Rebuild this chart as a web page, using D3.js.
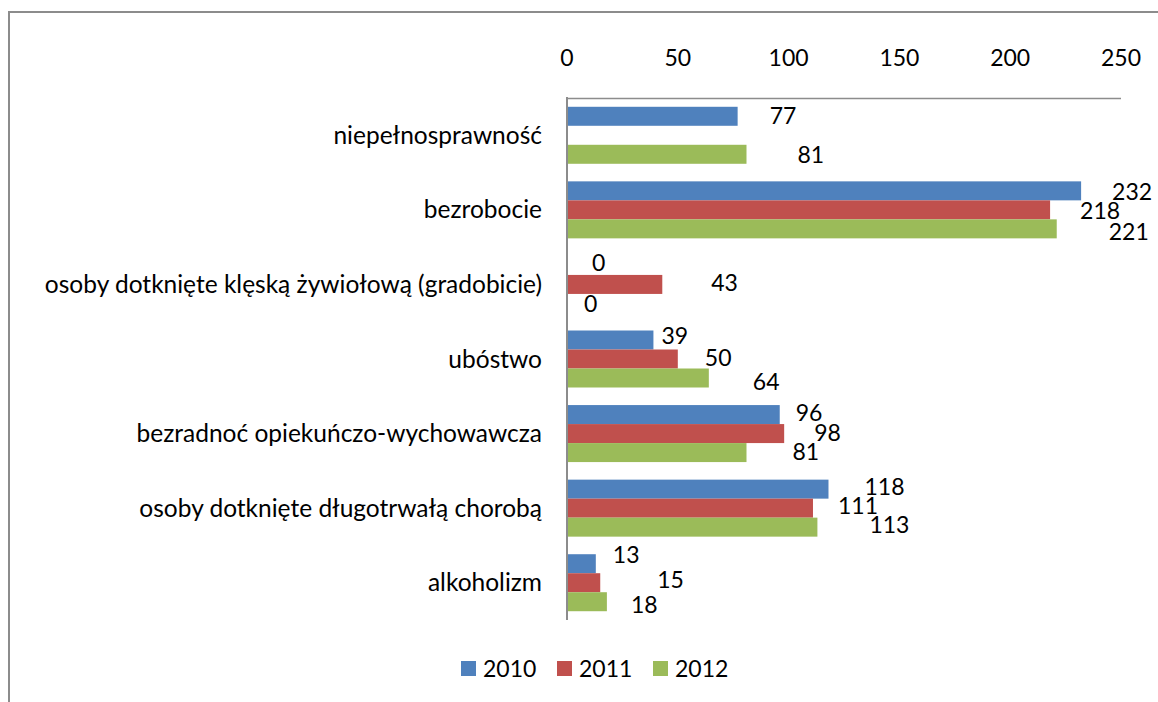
<!DOCTYPE html>
<html>
<head>
<meta charset="utf-8">
<script src="https://cdn.jsdelivr.net/npm/d3@7"></script>
<style>
  html,body{margin:0;padding:0;background:#fff}
  svg text{font-family:Lato,"Open Sans",sans-serif;fill:#000}
</style>
</head>
<body>
<svg id="chart" width="1158" height="702"></svg>
<script>
// categories and series values (2011 has no value for niepełnosprawność)
const categories = [
  'niepełnosprawność',
  'bezrobocie',
  'osoby dotknięte klęską żywiołową (gradobicie)',
  'ubóstwo',
  'bezradnoć opiekuńczo-wychowawcza',
  'osoby dotknięte długotrwałą chorobą',
  'alkoholizm'
]
const years = ['2010','2011','2012']
const v2010 = [77, 232, 0, 39, 96, 118, 13]
const v2011 = [null, 218, 43, 50, 98, 111, 15]
const v2012 = [81, 221, 0, 64, 81, 113, 18]
const ticks = [0, 50, 100, 150, 200, 250]

// label nudges, as placed by hand in the original (px)
const labelDx = [[32,0,51],[31,30,52],[25,49,17],[8,27,44],[16,30,46],[36,25,52],[17,57,24]]
const labelDy = [[0,0,1],[1,1,3],[-2,-1,1],[-4,-1,4],[-2,-1,-1],[-2,-2,-2],[-9,-3,3]]

const colors = ['#4f81bd','#c0504d','#9bbb59']
const series = [v2010, v2011, v2012]

const svg = d3.select('#chart')
const fs = 23

// outer frame (cut by the picture edge)
svg.append('rect').attr('x',9).attr('y',12).attr('width',1200).attr('height',750)
  .attr('fill','none').attr('stroke','#8c8c8c').attr('stroke-width',2)

const x = d3.scaleLinear().domain([0,250]).range([567,1121])
const y = d3.scaleBand().domain(categories).range([98,620])
const barH = 19

// top axis line
svg.append('line').attr('x1',x(0)).attr('x2',x(250)).attr('y1',98.5).attr('y2',98.5)
  .attr('stroke','#8c8c8c').attr('stroke-width',1.5)

// bars + value labels
series.forEach((vals,s)=>{
  const g = svg.append('g')
  categories.forEach((c,i)=>{
    const v = vals[i]
    if(v===null) return
    const cy = y(c) + y.bandwidth()/2 + (s-1)*barH
    g.append('rect')
      .attr('x', x(0)).attr('y', cy - barH/2)
      .attr('width', Math.max(0, x(v)-x(0))).attr('height', barH)
      .attr('fill', colors[s])
    g.append('text')
      .attr('x', x(v) + labelDx[i][s]).attr('y', cy + labelDy[i][s])
      .attr('dy','0.35em').attr('font-size',fs)
      .text(v)
  })
})

svg.append('line').attr('x1',567).attr('x2',567).attr('y1',97).attr('y2',620)
  .attr('stroke','#8c8c8c').attr('stroke-width',2)

// tick labels on top
svg.append('g').selectAll('text').data(ticks).join('text')
  .attr('x', d=>x(d)).attr('y', 58).attr('dy','0.35em')
  .attr('text-anchor','middle').attr('font-size',fs)
  .text(d=>d)

// category labels
svg.append('g').selectAll('text').data(categories).join('text')
  .attr('x', 542).attr('y', d=>y(d)+y.bandwidth()/2).attr('dy','0.35em')
  .attr('text-anchor','end').attr('font-size',24.5)
  .text(d=>d)

// legend
const legX = [461, 557, 653]
years.forEach((yr,i)=>{
  svg.append('rect').attr('x',legX[i]).attr('y',661).attr('width',15).attr('height',15).attr('fill',colors[i])
  svg.append('text').attr('x',legX[i]+22).attr('y',668.5).attr('dy','0.35em').attr('font-size',fs).text(yr)
})
</script>
</body>
</html>
